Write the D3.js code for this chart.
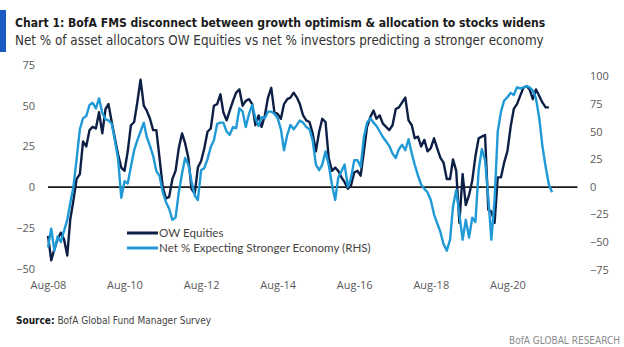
<!DOCTYPE html>
<html>
<head>
<meta charset="utf-8">
<script src="https://cdn.jsdelivr.net/npm/d3@7"></script>
<style>
  body { margin: 0; background: #fff; }
  svg { display: block; }
</style>
</head>
<body>
<script>
// monthly FMS readings, Aug-08 onwards
const startMonth = new Date(2008, 7, 1);

// net % of asset allocators overweight equities (left axis), Aug-08 .. Sep-21
const owEquities = [
  -30, -45, -38, -32, -28, -32, -42, -20, -8, 5, 8, 28, 25, 35, 37, 36, 46, 33, 48, 51,
  40, 30, 20, 12, 10, 22, 38, 40, 52, 66, 50, 47, 42, 35, 35, 18, 0, -7, -6, 5,
  10, 24, 33, 27, 18, -1, -4, 12, 16, 24, 34, 36, 50, 51, 57, 46, 41, 47, 53, 58,
  60, 50, 53, 54, 51, 38, 44, 37, 44, 55, 61, 46, 45, 42, 51, 54, 55, 58, 55, 51,
  44, 41, 40, 33, 22, 34, 42, 40, 18, 10, 12, 10, 6, 3, -1, 1, 9, 10, 7, 22,
  37, 43, 47, 42, 44, 39, 37, 35, 38, 48, 49, 52, 55, 41, 38, 30, 31, 25, 29, 22,
  24, 30, 24, 18, 15, 5, 5, 17, 10, -22, 8, -11, -5, 4, 19, 30, 31, 32, -14, -15,
  -22, 6, 6, 15, 22, 37, 48, 51, 56, 61, 62, 60, 54, 60, 56, 52, 49, 49
];

// net % expecting a stronger economy (right axis), Aug-08 .. Oct-21
const strongerEconomy = [
  -55, -38, -58, -45, -50, -40, -30, -15, 0, 25, 52, 62, 64, 74, 76, 71, 80, 67, 61, 60,
  57, 42, 25, -10, 5, 3, 18, 33, 42, 50, 58, 45, 37, 28, 14, 10, -5, -14, -20, -30,
  -28, -5, 12, 26, 20, 5, -8, -12, 15, 17, 25, 36, 42, 57, 58, 58, 50, 47, 54, 53,
  71, 68, 54, 66, 74, 62, 55, 63, 62, 68, 68, 66, 62, 52, 33, 47, 56, 52, 56, 60,
  58, 54, 52, 42, 20, 15, 20, 32, 20, 2, -12, 8, 14, 20, 0, 8, 24, 24, 18, 45,
  58, 62, 58, 55, 50, 45, 41, 37, 30, 26, 34, 38, 33, 43, 30, 20, 10, 2, -2, -5,
  -12, -25, -33, -41, -52, -58, -48, -18, -3, -25, -48, -30, -46, -28, -32, 15, 34, 24, -10, -48,
  -12, 50, 68, 78, 81, 85, 83, 90, 89, 90, 91, 90, 87, 80, 62, 37, 18, 2, -5
];

const leftTicks = [-50, -25, 0, 25, 50, 75];
const rightTicks = [-75, -50, -25, 0, 25, 50, 75, 100];
const xTickYears = [2008, 2010, 2012, 2014, 2016, 2018, 2020];

const seriesNames = ["OW Equities", "Net % Expecting Stronger Economy (RHS)"];
const colors = ["#0d1f45", "#1f9ad6"];

const W = 624, H = 347;
const narrow = "'Liberation Sans Narrow', 'DejaVu Sans Condensed', sans-serif";
const sans = "'Open Sans', sans-serif";

const svg = d3.select("body").append("svg")
  .attr("width", W)
  .attr("height", H);

// header
svg.append("rect").attr("x", 0).attr("y", 10).attr("width", 6).attr("height", 42).attr("fill", "#1d5bc4");

const title = svg.append("text")
  .attr("x", 15).attr("y", 27)
  .style("font-family", narrow).style("font-weight", "bold").style("font-size", "14px")
  .attr("fill", "#1a1a1a")
  .text("Chart 1: BofA FMS disconnect between growth optimism & allocation to stocks widens");

const subtitle = svg.append("text")
  .attr("x", 15).attr("y", 45)
  .style("font-family", narrow).style("font-size", "14.5px")
  .attr("fill", "#333")
  .text("Net % of asset allocators OW Equities vs net % investors predicting a stronger economy");

// shrink the header lines if the fallback font runs wider than the original
[[title, 531], [subtitle, 529]].forEach(([t, w]) => {
  const len = t.node().getComputedTextLength();
  if (len > w) t.style("font-size", (parseFloat(t.style("font-size")) * w / len).toFixed(2) + "px");
});

// scales
const x = d3.scaleTime()
  .domain([startMonth, new Date(2022, 5, 1)])
  .range([48, 577.5]);

const yL = d3.scaleLinear().domain([-50, 75]).range([268.5, 65]);
const yR = d3.scaleLinear().domain([-75, 100]).range([269.5, 76.3]);

const dates = strongerEconomy.map((d, i) => d3.timeMonth.offset(startMonth, i));

// axes
const axisFont = g => g.selectAll("text")
  .style("font-family", sans).style("font-size", "11px").attr("fill", "#595959");

svg.append("g")
  .attr("transform", "translate(38,0)")
  .call(d3.axisLeft(yL).tickValues(leftTicks).tickSize(0).tickPadding(3))
  .call(g => g.select(".domain").remove())
  .call(axisFont);

svg.append("g")
  .attr("transform", "translate(587,0)")
  .call(d3.axisRight(yR).tickValues(rightTicks).tickSize(0).tickPadding(3))
  .call(g => g.select(".domain").remove())
  .call(axisFont);

svg.append("g")
  .attr("transform", "translate(0,278)")
  .call(d3.axisBottom(x)
    .tickValues(xTickYears.map(y => new Date(y, 7, 1)))
    .tickFormat(d3.timeFormat("%b-%y"))
    .tickSize(0).tickPadding(3))
  .call(g => g.select(".domain").remove())
  .call(axisFont);

// zero line
svg.append("line")
  .attr("x1", x.range()[0]).attr("x2", x.range()[1])
  .attr("y1", yL(0)).attr("y2", yL(0))
  .attr("stroke", "#1a1a1a").attr("stroke-width", 1.6);

// lines
const lineL = d3.line().x((d, i) => x(dates[i])).y(d => yL(d));
const lineR = d3.line().x((d, i) => x(dates[i])).y(d => yR(d));

svg.append("path")
  .datum(owEquities)
  .attr("fill", "none")
  .attr("stroke", colors[0])
  .attr("stroke-width", 2.4)
  .attr("stroke-linejoin", "round")
  .attr("d", lineL);

svg.append("path")
  .datum(strongerEconomy)
  .attr("fill", "none")
  .attr("stroke", colors[1])
  .attr("stroke-width", 2.4)
  .attr("stroke-linejoin", "round")
  .attr("d", lineR);

// legend
const legend = svg.append("g").attr("transform", "translate(127,233)");
seriesNames.forEach((name, i) => {
  const row = legend.append("g").attr("transform", `translate(0,${i * 15})`);
  row.append("line").attr("x1", 0).attr("x2", 31).attr("y1", 0).attr("y2", 0)
    .attr("stroke", colors[i]).attr("stroke-width", 3);
  row.append("text").attr("x", 32).attr("dy", "0.35em")
    .style("font-family", "Lato, sans-serif").style("font-size", "11.6px")
    .attr("fill", "#444")
    .text(name);
});

// footer
const src = svg.append("text")
  .attr("x", 16).attr("y", 324)
  .style("font-family", narrow).style("font-size", "10px")
  .attr("fill", "#444");
src.append("tspan").style("font-weight", "bold").attr("fill", "#1a1a1a").text("Source:");
src.append("tspan").text(" BofA Global Fund Manager Survey");

svg.append("text")
  .attr("x", 620).attr("y", 344)
  .attr("text-anchor", "end")
  .style("font-family", narrow).style("font-size", "10px")
  .attr("fill", "#8a8a8a")
  .text("BofA GLOBAL RESEARCH");
</script>
</body>
</html>
